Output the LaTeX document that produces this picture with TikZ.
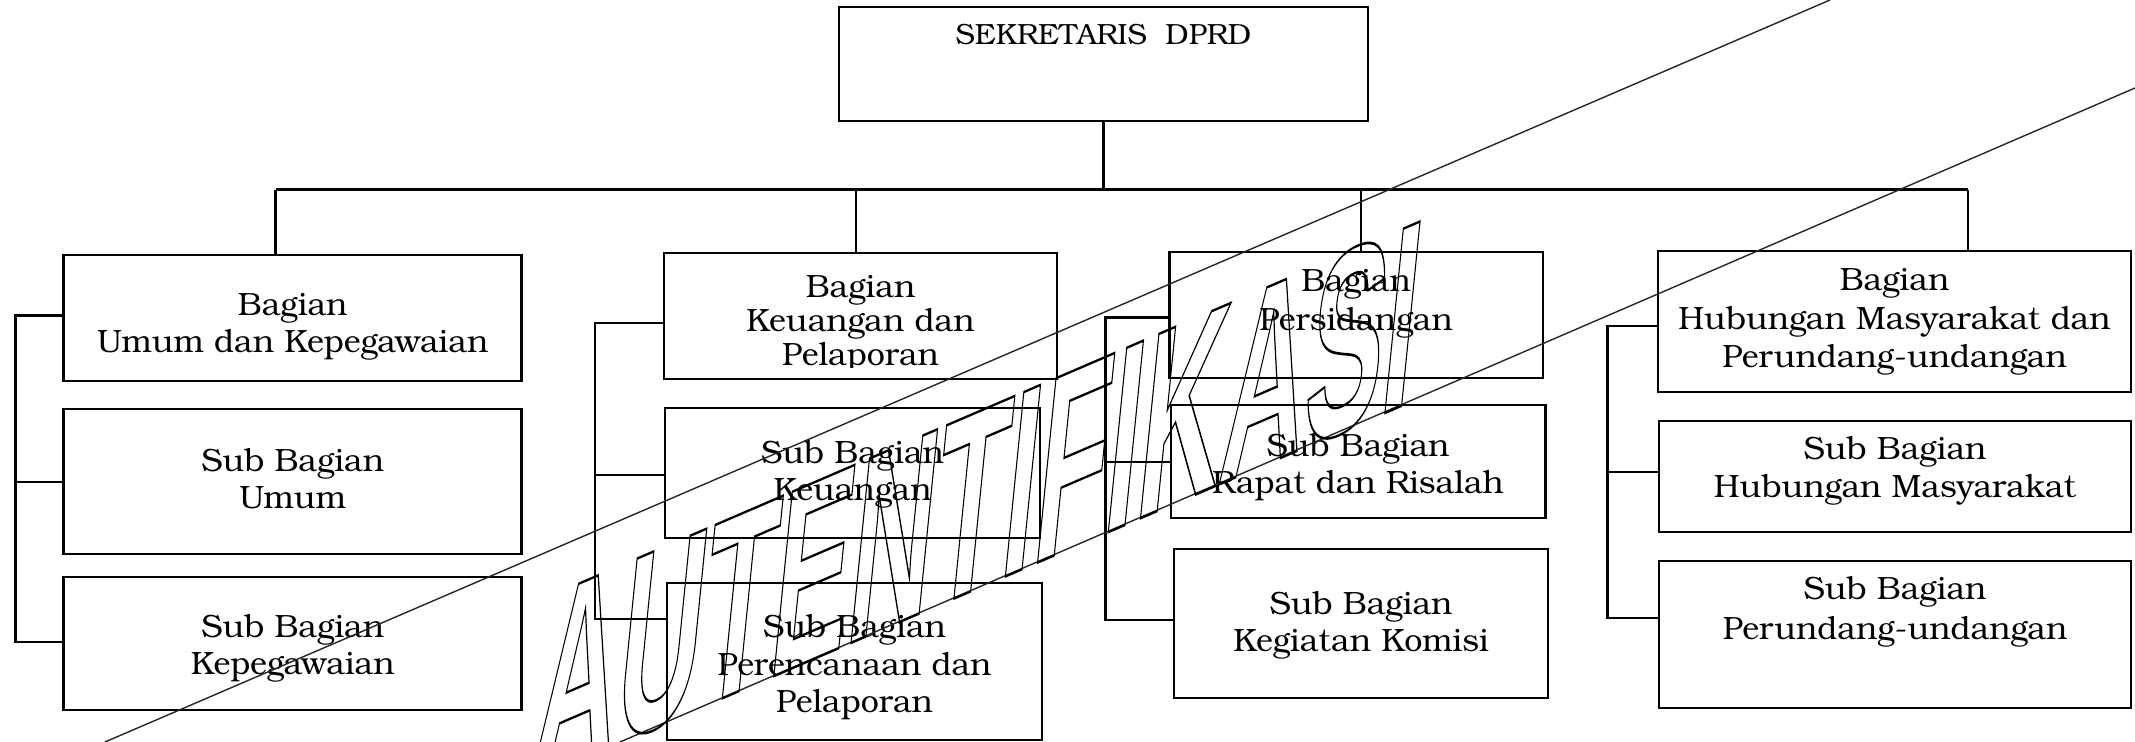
\documentclass[tikz,border=0pt]{standalone}
\usepackage{fontspec}
\setmainfont{TeX Gyre Bonum}
\newfontfamily\wmfont{Liberation Sans}[BoldFont={Liberation Sans Bold}]
\usetikzlibrary{fit}
\newcommand\orgbox[5]{\node[box, fit={(#2,#3) (#4,#5)}] (#1) {};}
\newcommand\orgtxt[4]{\node[lbl] (#1) at (#2,#3) {#4};}
\begin{document}
\begin{tikzpicture}[x=0.5pt,y=-0.5pt,
  box/.style={draw, line width=1.4pt, inner sep=0pt},
  lbl/.style={font=\fontsize{16.1}{19}\selectfont, anchor=base, inner sep=0pt},
  conn/.style={line width=1.1pt},
  bus/.style={line width=1.5pt},
  wm/.style={line width=0.7pt, draw=black!85},
  wmtext/.style={anchor=base west, inner sep=0pt, cm={0.432,0.186,0.1,1,(0,0)},
    font=\wmfont\bfseries\fontsize{134}{134}\selectfont}]
\useasboundingbox (0,0) rectangle (2135,742);

% ---- boxes
\orgbox{top}{839}{7}{1368}{121}
\orgbox{b11}{63.7}{255}{521.7}{381}
\orgbox{b12}{63.7}{409}{521.7}{554}
\orgbox{b13}{63.7}{577}{521.7}{710}
\orgbox{b21}{664}{253}{1057}{379}
\orgbox{b22}{665}{408}{1040}{538}
\orgbox{b23}{667}{583}{1042}{740}
\orgbox{b31}{1169.5}{252}{1543}{378}
\orgbox{b32}{1171}{405}{1545.6}{518}
\orgbox{b33}{1174}{549}{1548}{698}
\orgbox{b41}{1658}{251}{2131}{392}
\orgbox{b42}{1659}{421}{2131}{532}
\orgbox{b43}{1659}{561}{2131}{708}

% ---- texts
\node[lbl, font=\fontsize{14.6}{17}\selectfont] (ttop) at (1103.5,45) {SEKRETARIS~~DPRD};
\orgtxt{t11a}{292.7}{316}{Bagian}
\orgtxt{t11b}{292.7}{353}{Umum dan Kepegawaian}
\orgtxt{t12a}{292.7}{472}{Sub Bagian}
\orgtxt{t12b}{292.7}{509}{Umum}
\orgtxt{t13a}{292.7}{637}{Sub Bagian}
\orgtxt{t13b}{292.7}{674}{Kepegawaian}
\orgtxt{t21a}{860.5}{297.5}{Bagian}
\orgtxt{t21b}{860.5}{332}{Keuangan dan}
\begin{scope}
  \clip (664,340) rectangle (1057,368);
  \orgtxt{t21c}{860.5}{366}{Pelaporan}
\end{scope}
\orgtxt{t22a}{852.5}{464}{Sub Bagian}
\orgtxt{t22b}{852.5}{500.5}{Keuangan}
\orgtxt{t23a}{854.5}{637}{Sub Bagian}
\orgtxt{t23b}{854.5}{675}{Perencanaan dan}
\orgtxt{t23c}{854.5}{712}{Pelaporan}
\orgtxt{t31a}{1356}{292}{Bagian}
\orgtxt{t31b}{1356}{330.5}{Persidangan}
\orgtxt{t32a}{1358}{457}{Sub Bagian}
\orgtxt{t32b}{1358}{493.6}{Rapat dan Risalah}
\orgtxt{t33a}{1361}{614}{Sub Bagian}
\orgtxt{t33b}{1361}{651}{Kegiatan Komisi}
\orgtxt{t41a}{1894.5}{291}{Bagian}
\orgtxt{t41b}{1894.5}{330}{Hubungan Masyarakat dan}
\orgtxt{t41c}{1894.5}{368}{Perundang-undangan}
\orgtxt{t42a}{1895}{459.6}{Sub Bagian}
\orgtxt{t42b}{1895}{498}{Hubungan Masyarakat}
\orgtxt{t43a}{1895}{599}{Sub Bagian}
\orgtxt{t43b}{1895}{639}{Perundang-undangan}

% ---- bus and drops
\coordinate (busL) at (275.5,190);
\coordinate (busR) at (1968,190);
\coordinate (d2) at (855.8,190);
\coordinate (d3) at (1360.6,190);
\draw[bus] (busL) -- (busR);
\draw[conn] (top.south) -- (top.south |- busL);
\draw[conn] (busL) -- (busL |- b11.north);
\draw[conn] (d2) -- (d2 |- b21.north);
\draw[conn] (d3) -- (d3 |- b31.north);
\draw[conn] (busR) -- (busR |- b41.north);

% ---- side brackets
\coordinate (k1a) at (15.5,315.5); \coordinate (k1b) at (15.5,482); \coordinate (k1c) at (15.5,642);
\draw[conn] (b11.west |- k1a) -- (k1a) -- (k1c) -- (b13.west |- k1c);
\draw[conn] (k1b) -- (b12.west |- k1b);
\coordinate (k2a) at (595,323); \coordinate (k2b) at (595,475); \coordinate (k2c) at (595,619);
\draw[conn] (b21.west |- k2a) -- (k2a) -- (k2c) -- (b23.west |- k2c);
\draw[conn] (k2b) -- (b22.west |- k2b);
\coordinate (k3a) at (1105.5,317.5); \coordinate (k3b) at (1105.5,462); \coordinate (k3c) at (1105.5,620);
\draw[conn] (b31.west |- k3a) -- (k3a) -- (k3c) -- (b33.west |- k3c);
\draw[conn] (k3b) -- (b32.west |- k3b);
\coordinate (k4a) at (1607.5,326); \coordinate (k4b) at (1607.5,472); \coordinate (k4c) at (1607.5,618);
\draw[conn] (b41.west |- k4a) -- (k4a) -- (k4c) -- (b43.west |- k4c);
\draw[conn] (k4b) -- (b42.west |- k4b);

% ---- watermark
\begin{scope}
  \clip (0,0) rectangle (2135,742);
  \coordinate (w1a) at (105,742); \coordinate (w1b) at (1830,0);
  \coordinate (w2a) at (620,742); \coordinate (w2b) at (2135,88);
  \draw[wm] (w1a) -- (w1b);
  \draw[wm] (w2a) -- (w2b);
  \node[wmtext] (wmk) at (528,782) {\special{pdf:literal direct 1 Tr 1.3 w}AUTENTIFIKASI\special{pdf:literal direct 0 Tr}};
\end{scope}
\end{tikzpicture}
\end{document}
